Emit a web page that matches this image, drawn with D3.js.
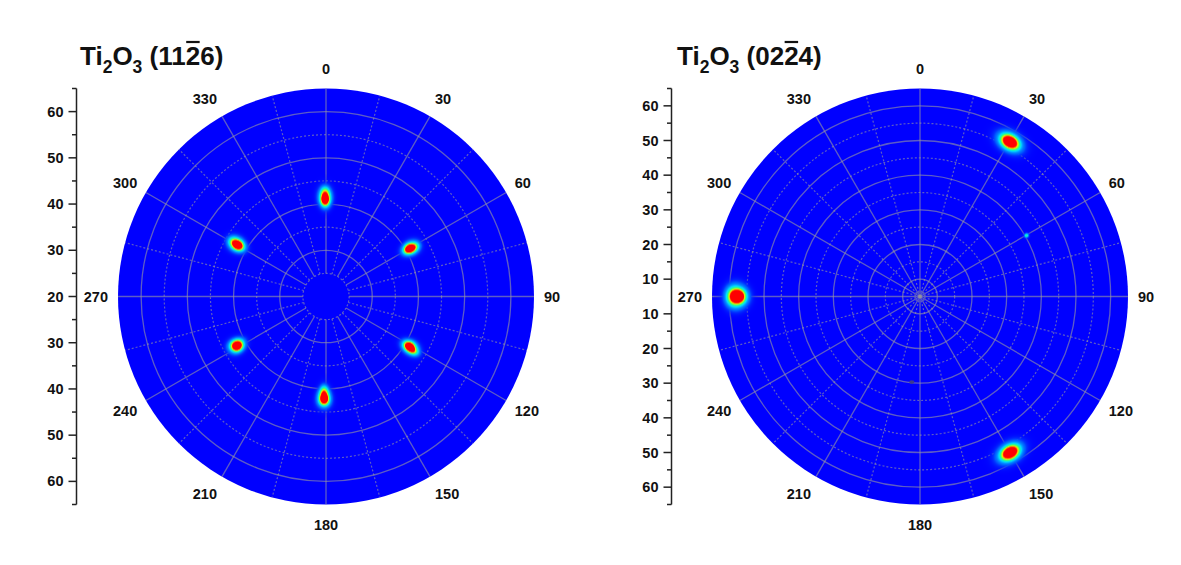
<!DOCTYPE html>
<html>
<head>
<meta charset="utf-8">
<script src="https://cdn.jsdelivr.net/npm/d3@7"></script>
<style>
  html, body { margin: 0; padding: 0; background: #ffffff; }
  svg { display: block; }
  text { font-family: "Liberation Sans", Arial, sans-serif; font-weight: bold; fill: #111; }
</style>
</head>
<body>
<svg id="chart" width="1181" height="565"></svg>
<script>
// ---- data -------------------------------------------------------------
// azimuth (phi) tick labels, degrees clockwise from the top
const azimuthTicks = [0, 30, 60, 90, 120, 150, 180, 210, 240, 270, 300, 330];

// tilt (psi) axis ticks and grid rings for each pole figure
const leftPsiRange = [20, 65];
const leftPsiMajor = [20, 30, 40, 50, 60];
const leftPsiMinor = [25, 35, 45, 55, 65];
const leftRingsSolid = [30, 40, 50, 60];
const leftRingsDashed = [25, 35, 45, 55];

const rightPsiRange = [5, 65];
const rightPsiMajor = [10, 20, 30, 40, 50, 60];
const rightPsiMinor = [15, 25, 35, 45, 55, 65];
const rightRingsSolid = [10, 20, 30, 40, 50, 60];
const rightRingsDashed = [15, 25, 35, 45, 55];

// diffraction peaks: phi (deg), psi (deg), amplitude, widths in phi and psi
const leftPeaks = [
  { phi: 359.5, psi: 40.9, amp: 1.7, sPhi: 1.45, sPsi: 0.7 },
  { phi: 359.5, psi: 42.1, amp: 0.8, sPhi: 1.5,  sPsi: 0.9 },
  { phi: 60.2,  psi: 40.8, amp: 1.7, sPhi: 1.5,  sPsi: 0.7 },
  { phi: 60.6,  psi: 41.6, amp: 0.6, sPhi: 1.5,  sPsi: 0.8 },
  { phi: 120.8, psi: 41.0, amp: 1.7, sPhi: 1.5,  sPsi: 0.7 },
  { phi: 121.8, psi: 41.9, amp: 0.8, sPhi: 1.3,  sPsi: 0.8 },
  { phi: 181.0, psi: 42.2, amp: 1.7, sPhi: 1.45, sPsi: 0.7 },
  { phi: 181.2, psi: 41.0, amp: 0.8, sPhi: 1.5,  sPsi: 0.9 },
  { phi: 240.7, psi: 42.0, amp: 1.7, sPhi: 1.5,  sPsi: 0.7 },
  { phi: 242.3, psi: 42.0, amp: 0.6, sPhi: 1.4,  sPsi: 0.8 },
  { phi: 300.2, psi: 42.0, amp: 1.7, sPhi: 1.5,  sPsi: 0.7 },
  { phi: 300.5, psi: 42.9, amp: 0.7, sPhi: 1.5,  sPsi: 0.8 }
];

const rightPeaks = [
  { phi: 30.2,  psi: 56.6, amp: 2.0, sPhi: 1.7,  sPsi: 1.05 },
  { phi: 150.0, psi: 57.0, amp: 2.0, sPhi: 1.7,  sPsi: 1.05 },
  { phi: 270.0, psi: 57.4, amp: 2.0, sPhi: 1.25, sPsi: 1.1 },
  { phi: 270.0, psi: 58.8, amp: 0.8, sPhi: 1.5,  sPsi: 1.1 },
  { phi: 60.2,  psi: 40.4, amp: 0.45, sPhi: 0.6, sPsi: 0.4 }
];
const rightDarkSpots = [{ phi: 185.5, psi: 29.8 }];

// ---- layout -----------------------------------------------------------
const svg = d3.select("#chart");
const R = 208;
const centerY = 296.5;

const colorMap = d3.scaleLinear()
  .domain([0, 0.15, 0.3, 0.45, 0.6, 0.72, 0.85, 1])
  .range(["#0000ff", "#0070ff", "#00e0ff", "#20ff90", "#a0ff20", "#ffe000", "#ff5000", "#ff0000"])
  .clamp(true);

const gridStroke = "rgba(150,150,160,0.62)";

function polar(rScale, cx, cy, phi, psi) {
  const a = phi * Math.PI / 180, r = rScale(psi);
  return [cx + r * Math.sin(a), cy - r * Math.cos(a)];
}

// peak profile: narrow core with a broad, weak wing
function profile(u) {
  return 0.86 * Math.exp(-0.5 * u) + 0.14 * Math.exp(-0.5 * u / 4.8);
}

function drawPoleFigure(cfg) {
  const g = svg.append("g");
  const { cx } = cfg;
  const cy = centerY;
  const rScale = d3.scaleLinear().domain(cfg.psiRange).range([0, R]);
  const psiMax = cfg.psiRange[1];

  // plot disk
  g.append("circle").attr("cx", cx).attr("cy", cy).attr("r", R).attr("fill", "#0000ff");

  // rings
  g.selectAll(null).data(cfg.ringsSolid).join("circle")
    .attr("cx", cx).attr("cy", cy).attr("r", d => rScale(d))
    .attr("fill", "none").attr("stroke", gridStroke).attr("stroke-width", 1.3);
  g.selectAll(null).data(cfg.ringsDashed).join("circle")
    .attr("cx", cx).attr("cy", cy).attr("r", d => rScale(d))
    .attr("fill", "none").attr("stroke", gridStroke).attr("stroke-width", 1.2)
    .attr("stroke-dasharray", "2,2");

  // spokes: solid every 30 deg, dashed in between
  const spokeStart = cfg.spokeStart;
  const major = d3.range(0, 360, 30), minor = d3.range(15, 360, 30);
  g.selectAll(null).data(major).join("line")
    .attr("x1", d => polar(rScale, cx, cy, d, spokeStart)[0])
    .attr("y1", d => polar(rScale, cx, cy, d, spokeStart)[1])
    .attr("x2", d => polar(rScale, cx, cy, d, psiMax)[0])
    .attr("y2", d => polar(rScale, cx, cy, d, psiMax)[1])
    .attr("stroke", gridStroke).attr("stroke-width", 1.3);
  g.selectAll(null).data(minor).join("line")
    .attr("x1", d => polar(rScale, cx, cy, d, spokeStart)[0])
    .attr("y1", d => polar(rScale, cx, cy, d, spokeStart)[1])
    .attr("x2", d => polar(rScale, cx, cy, d, psiMax)[0])
    .attr("y2", d => polar(rScale, cx, cy, d, psiMax)[1])
    .attr("stroke", gridStroke).attr("stroke-width", 1.2)
    .attr("stroke-dasharray", "2,2");

  // intensity map from the peak list
  const size = 2 * R;
  const canvas = document.createElement("canvas");
  canvas.width = size; canvas.height = size;
  const ctx = canvas.getContext("2d");
  const img = ctx.createImageData(size, size);
  for (let j = 0; j < size; j++) {
    for (let i = 0; i < size; i++) {
      const dx = i + 0.5 - R, dy = j + 0.5 - R;
      const r = Math.hypot(dx, dy);
      if (r > R) continue;
      const psi = rScale.invert(r);
      let phi = Math.atan2(dx, -dy) * 180 / Math.PI;
      if (phi < 0) phi += 360;
      let I = 0;
      for (const p of cfg.peaks) {
        const dp = ((phi - p.phi + 540) % 360) - 180;
        const ds = psi - p.psi;
        I += p.amp * profile((dp / p.sPhi) ** 2 + (ds / p.sPsi) ** 2);
      }
      if (I < 0.01) continue;
      const c = d3.rgb(colorMap(I));
      const k = (j * size + i) * 4;
      img.data[k] = c.r; img.data[k + 1] = c.g; img.data[k + 2] = c.b;
      img.data[k + 3] = Math.round(255 * Math.min(1, I / 0.12));
    }
  }
  ctx.putImageData(img, 0, 0);
  g.append("image")
    .attr("x", cx - R).attr("y", cy - R).attr("width", size).attr("height", size)
    .attr("href", canvas.toDataURL());

  // small dark features
  g.selectAll(null).data(cfg.darkSpots || []).join("ellipse")
    .attr("cx", d => polar(rScale, cx, cy, d.phi, d.psi)[0])
    .attr("cy", d => polar(rScale, cx, cy, d.phi, d.psi)[1])
    .attr("rx", 2.6).attr("ry", 1.8)
    .attr("fill", "#3c3c8c");

  // azimuth labels
  const labelR = 218;
  g.selectAll(null).data(azimuthTicks).join("text")
    .attr("x", d => cx + labelR * Math.sin(d * Math.PI / 180))
    .attr("y", d => cy - (labelR + 10) * Math.cos(d * Math.PI / 180))
    .attr("text-anchor", d => (d === 0 || d === 180) ? "middle" : (d < 180 ? "start" : "end"))
    .attr("dominant-baseline", "central")
    .attr("font-size", 14.5)
    .text(d => d);

  // psi axis on the left, mirrored about the centre
  const ax = cfg.axisX;
  const axis = g.append("g");
  axis.append("line")
    .attr("x1", ax).attr("x2", ax)
    .attr("y1", cy - rScale(psiMax)).attr("y2", cy + rScale(psiMax))
    .attr("stroke", "#222").attr("stroke-width", 1.5);
  const majorTicks = [];
  cfg.psiMajor.forEach(v => {
    if (rScale(v) < 0.5) majorTicks.push({ v, y: cy });
    else { majorTicks.push({ v, y: cy - rScale(v) }); majorTicks.push({ v, y: cy + rScale(v) }); }
  });
  const minorTicks = [];
  cfg.psiMinor.forEach(v => {
    minorTicks.push({ v, y: cy - rScale(v) });
    minorTicks.push({ v, y: cy + rScale(v) });
  });
  axis.selectAll(null).data(majorTicks).join("line")
    .attr("x1", ax - 8).attr("x2", ax).attr("y1", d => d.y).attr("y2", d => d.y)
    .attr("stroke", "#222").attr("stroke-width", 1.5);
  axis.selectAll(null).data(minorTicks).join("line")
    .attr("x1", ax - 4.5).attr("x2", ax).attr("y1", d => d.y).attr("y2", d => d.y)
    .attr("stroke", "#222").attr("stroke-width", 1.5);
  axis.selectAll(null).data(majorTicks).join("text")
    .attr("x", ax - 13).attr("y", d => d.y)
    .attr("text-anchor", "end").attr("dominant-baseline", "central")
    .attr("font-size", 14.5)
    .text(d => d.v);

  // title: Ti2O3 (hkil) with a bar over the negative index
  const title = g.append("text").attr("x", cfg.titleX).attr("y", 64.5).attr("font-size", 26);
  title.append("tspan").text("Ti");
  title.append("tspan").attr("dy", 8).attr("font-size", 17.5).text("2");
  title.append("tspan").attr("dy", -8).text("O");
  title.append("tspan").attr("dy", 8).attr("font-size", 17.5).text("3");
  title.append("tspan").attr("dy", -8).text(" (" + cfg.hkil + ")");
  const node = title.node();
  const idx = 7 + cfg.barIndex;
  const s = node.getStartPositionOfChar(idx), e = node.getEndPositionOfChar(idx);
  g.append("line")
    .attr("x1", s.x + 0.5).attr("x2", e.x - 0.5)
    .attr("y1", 42).attr("y2", 42)
    .attr("stroke", "#111").attr("stroke-width", 2.2);
}

drawPoleFigure({
  cx: 326, psiRange: leftPsiRange, psiMajor: leftPsiMajor, psiMinor: leftPsiMinor,
  ringsSolid: leftRingsSolid, ringsDashed: leftRingsDashed, spokeStart: 25,
  peaks: leftPeaks, axisX: 76.5, titleX: 80, hkil: "1126", barIndex: 2
});
drawPoleFigure({
  cx: 920, psiRange: rightPsiRange, psiMajor: rightPsiMajor, psiMinor: rightPsiMinor,
  ringsSolid: rightRingsSolid, ringsDashed: rightRingsDashed, spokeStart: 5,
  peaks: rightPeaks, darkSpots: rightDarkSpots, axisX: 671.5, titleX: 677, hkil: "0224", barIndex: 2
});
</script>
</body>
</html>
